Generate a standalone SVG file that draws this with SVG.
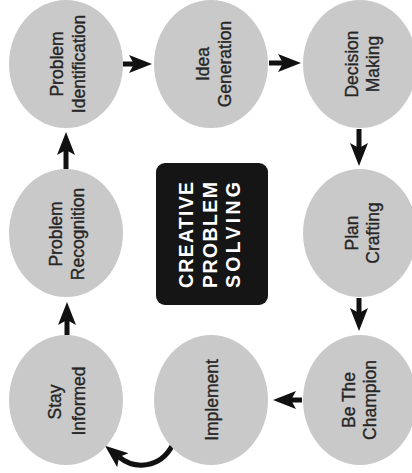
<svg xmlns="http://www.w3.org/2000/svg" width="412" height="473" viewBox="0 0 412 473">
<style>
.node ellipse{fill:#c9c9c9}
.lbl{font-family:"Liberation Sans",Arial,sans-serif;font-size:17.5px;fill:#262626;stroke:#262626;stroke-width:0.35;text-anchor:middle}
.title{font-family:"Liberation Sans",Arial,sans-serif;font-size:19.5px;font-weight:bold;fill:#ffffff;text-anchor:middle}
.conn{fill:none;stroke:#111;stroke-width:5;marker-end:url(#ah)}
</style>
<defs>
<marker id="ah" viewBox="0 0 24 20" refX="5" refY="10" markerWidth="24" markerHeight="20" markerUnits="userSpaceOnUse" orient="auto">
<path d="M0,1 L23,10 L0,19 L5,10 z" fill="#111"/>
</marker>
</defs>
<rect width="412" height="473" fill="#ffffff"/>
<g id="connectors">
<path class="conn" d="M123,64 H134"/>
<path class="conn" d="M269,63 H283"/>
<path class="conn" d="M359,129 V148"/>
<path class="conn" d="M359,298 V313"/>
<path class="conn" d="M302,400 H291"/>
<path class="conn" d="M172,446 C160,468 135,470 119,457"/>
<path class="conn" d="M67,335 V320"/>
<path class="conn" d="M66,169 V150"/>
</g>
<g id="center">
<rect x="156" y="163" width="112" height="142" rx="9" fill="#151515"/>
<text class="title" transform="translate(193,235) rotate(-90)" textLength="106" lengthAdjust="spacing">CREATIVE</text>
<text class="title" transform="translate(217,235) rotate(-90)" textLength="106" lengthAdjust="spacing">PROBLEM</text>
<text class="title" transform="translate(240,235) rotate(-90)" textLength="106" lengthAdjust="spacing">SOLVING</text>
</g>
<g id="problem-identification" class="node">
<ellipse cx="66" cy="64" rx="57" ry="64"/>
<text class="lbl" transform="translate(63,64) rotate(-90)">Problem</text>
<text class="lbl" transform="translate(85,64) rotate(-90)">Identification</text>
</g>
<g id="idea-generation" class="node">
<ellipse cx="211" cy="64" rx="57" ry="64"/>
<text class="lbl" transform="translate(209,64) rotate(-90)">Idea</text>
<text class="lbl" transform="translate(231,64) rotate(-90)">Generation</text>
</g>
<g id="decision-making" class="node">
<ellipse cx="360" cy="64" rx="57" ry="64"/>
<text class="lbl" transform="translate(358,64) rotate(-90)">Decision</text>
<text class="lbl" transform="translate(379,64) rotate(-90)">Making</text>
</g>
<g id="problem-recognition" class="node">
<ellipse cx="66" cy="233" rx="57" ry="64"/>
<text class="lbl" transform="translate(62,234) rotate(-90)">Problem</text>
<text class="lbl" transform="translate(84,234) rotate(-90)">Recognition</text>
</g>
<g id="plan-crafting" class="node">
<ellipse cx="360" cy="233" rx="57" ry="64"/>
<text class="lbl" transform="translate(358,233) rotate(-90)">Plan</text>
<text class="lbl" transform="translate(379,233) rotate(-90)">Crafting</text>
</g>
<g id="stay-informed" class="node">
<ellipse cx="66" cy="400" rx="57" ry="65"/>
<text class="lbl" transform="translate(61,402) rotate(-90)">Stay</text>
<text class="lbl" transform="translate(85,401) rotate(-90)">Informed</text>
</g>
<g id="implement" class="node">
<ellipse cx="211" cy="400" rx="57" ry="65"/>
<text class="lbl" transform="translate(218,400) rotate(-90)">Implement</text>
</g>
<g id="be-the-champion" class="node">
<ellipse cx="360" cy="400" rx="57" ry="65"/>
<text class="lbl" transform="translate(355,400) rotate(-90)">Be The</text>
<text class="lbl" transform="translate(376,400) rotate(-90)">Champion</text>
</g>
</svg>
